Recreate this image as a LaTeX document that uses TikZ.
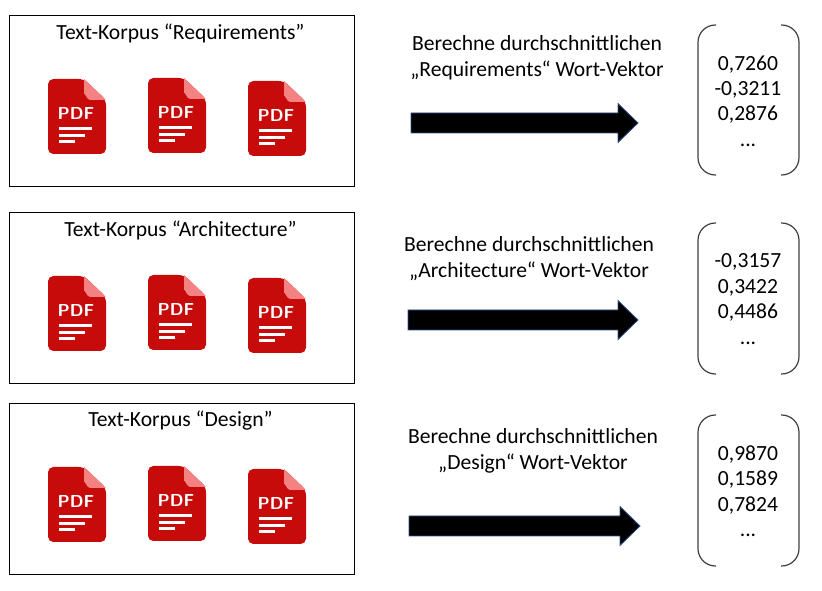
\documentclass[tikz,border=0pt]{standalone}
\usepackage{fontspec}
\setmainfont{Carlito}
\usetikzlibrary{positioning}
\definecolor{pdfred}{HTML}{C70A0A}
\definecolor{pdffold}{HTML}{F58282}
\definecolor{arrowline}{HTML}{2F528F}
\tikzset{
    corpusbox/.style={rectangle, draw, line width=0.6pt, minimum width=258.75pt, minimum height=128.25pt, inner sep=0pt},
    heading/.style={font=\fontsize{16.2}{16.2}\selectfont, inner sep=0pt},
    caption/.style={font=\fontsize{16.2}{19.3}\selectfont, align=center, inner sep=0pt},
    vector/.style={font=\fontsize{16.2}{19.1}\selectfont, align=center, inner sep=0pt},
    bracket/.style={draw=black!75, line width=0.9pt, rounded corners=13pt},
    wordarrow/.style={fill=black, draw=arrowline, line width=0.6pt, line join=miter},
    pdficon/.pic={
        \fill[pdfred, rounded corners=4pt] (0,0) -- (36,0) -- (58,21) -- (58,75) -- (0,75) -- cycle;
        \fill[pdffold] (36,0) -- (58,21) -- (42,21) to[out=180,in=90] (36,15) -- cycle;
        \node[text=white, font=\fontsize{13}{13}\sffamily\bfseries, inner sep=0pt] (-label) at (28,34.5) {PDF};
        \fill[white] (11,48.5) rectangle (44,51.5);
        \fill[white] (11,55.5) rectangle (37,58.5);
        \fill[white] (11,61.5) rectangle (27,64.5);
    },
}
\newcommand{\vecarrow}[3]{% start x, tip x, centre y
    \draw[wordarrow] (#1,#3-10) -- (#2-20,#3-10) -- (#2-20,#3-19.5) -- (#2,#3) -- (#2-20,#3+19.5) -- (#2-20,#3+10) -- (#1,#3+10) -- cycle;
}
\newcommand{\vecbrackets}[2]{% top y, bottom y
    \draw[bracket] (716,#1) -- (698,#1) -- (698,#2) -- (716,#2);
    \draw[bracket] (781,#1) -- (799,#1) -- (799,#2) -- (781,#2);
}
\begin{document}
\begin{tikzpicture}[x=0.75pt, y=-0.75pt]
    \useasboundingbox (0,0) rectangle (822,591);

    % first row
    \node[corpusbox] (boxreq) at (181.5,100.5) {};
    \node[heading] (headreq) at (180.5,33) {Text-Korpus “Requirements”};
    \pic (reqa) at (48,79) {pdficon};
    \pic (reqb) at (148,78) {pdficon};
    \pic (reqc) at (248,81) {pdficon};
    \node[caption] (capreq) at (537,58) {Berechne durchschnittlichen\\„Requirements“ Wort-Vektor};
    \vecarrow{411}{638}{123}
    \vecbrackets{25}{175}
    \node[vector] (vecreq) at (748,101) {0,7260\\-0,3211\\0,2876\\...};

    % second row
    \node[corpusbox] (boxarc) at (181.5,297.5) {};
    \node[heading] (headarc) at (180.5,230) {Text-Korpus “Architecture”};
    \pic (arca) at (48,276) {pdficon};
    \pic (arcb) at (148,275) {pdficon};
    \pic (arcc) at (248,278) {pdficon};
    \node[caption] (caparc) at (529,258.5) {Berechne durchschnittlichen\\„Architecture“ Wort-Vektor};
    \vecarrow{408}{638}{320}
    \vecbrackets{223}{374}
    \node[vector] (vecarc) at (748,299) {-0,3157\\0,3422\\0,4486\\...};

    % third row
    \node[corpusbox] (boxdes) at (181.5,488.5) {};
    \node[heading] (headdes) at (180.5,421) {Text-Korpus “Design”};
    \pic (desa) at (48,467) {pdficon};
    \pic (desb) at (148,466) {pdficon};
    \pic (desc) at (248,469) {pdficon};
    \node[caption] (capdes) at (533,451) {Berechne durchschnittlichen\\„Design“ Wort-Vektor};
    \vecarrow{409}{640}{526}
    \vecbrackets{415}{566}
    \node[vector] (vecdes) at (748,491) {0,9870\\0,1589\\0,7824\\...};
\end{tikzpicture}
\end{document}
